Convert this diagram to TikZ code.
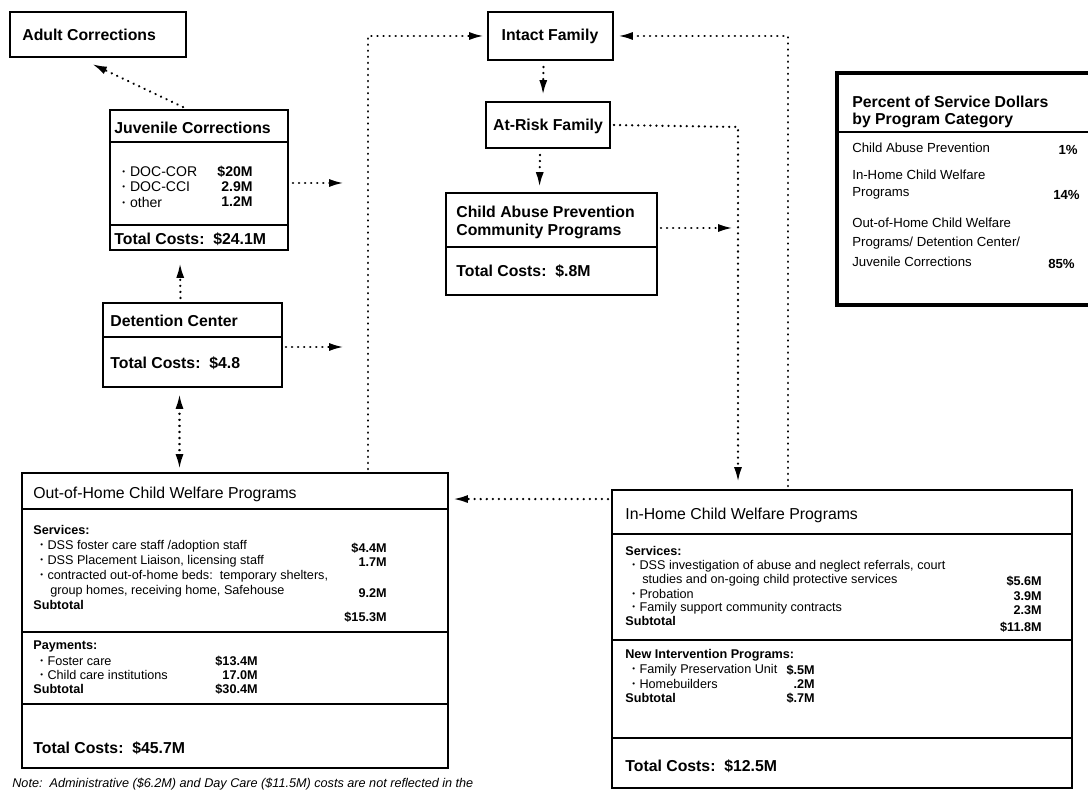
\documentclass[tikz,border=0pt]{standalone}
\usepackage{fontspec}
\setmainfont{Liberation Sans}
\usetikzlibrary{arrows.meta,fit,calc}

\newcommand{\dotitem}{\raisebox{0.25ex}{\fontsize{4.5}{5}\selectfont\textbullet}\hspace{0.35em}}

\tikzstyle{box} = [draw, line width=1.1pt, inner sep=0pt]
\tikzstyle{sep} = [line width=1pt]
\tikzstyle{dots} = [line width=1.4pt, line cap=round, dash pattern=on 0.05pt off 3.4pt]
\tikzstyle{flow} = [dots, -{Latex[length=8.5pt,width=4.6pt]}]
\tikzstyle{head} = [anchor=west, inner sep=0pt, font=\bfseries\fontsize{9}{10.5}\selectfont]
\tikzstyle{bigtitle} = [anchor=west, inner sep=0pt, font=\fontsize{9}{10.5}\selectfont]
\tikzstyle{txt} = [anchor=west, inner sep=0pt, font=\fontsize{7.2}{8.5}\selectfont]
\tikzstyle{btxt} = [anchor=west, inner sep=0pt, font=\bfseries\fontsize{7.2}{8.5}\selectfont]
\tikzstyle{val} = [anchor=east, inner sep=0pt, font=\bfseries\fontsize{7.2}{8.5}\selectfont]
\tikzstyle{jtxt} = [anchor=west, inner sep=0pt, font=\fontsize{8}{9.5}\selectfont]
\tikzstyle{jval} = [anchor=east, inner sep=0pt, font=\bfseries\fontsize{8}{9.5}\selectfont]
\tikzstyle{ptxt} = [anchor=west, inner sep=0pt, font=\fontsize{7.5}{9}\selectfont]
\tikzstyle{pval} = [anchor=east, inner sep=0pt, font=\bfseries\fontsize{7.5}{9}\selectfont]

\begin{document}
\begin{tikzpicture}[x=0.02cm, y=-0.02cm]
  \useasboundingbox (0,0) rectangle (1088,793);

  % small boxes
  \node[box, fit={(10,12) (186,57)}] (adult) {};
  \node[head] (adultT) at (22,35) {Adult Corrections};

  \node[box, fit={(110,110) (288,250)}] (juv) {};
  \draw[sep] (110,142) -- (288,142);
  \draw[sep] (110,225) -- (288,225);
  \node[head] (juvT) at (114,128) {Juvenile Corrections};
  \foreach \i/\y/\t/\v in {1/172/DOC-COR/\$20M, 2/187/DOC-CCI/2.9M, 3/202/other/1.2M} {
    \node[jtxt] (juvL\i) at (122,\y) {\dotitem\t};
    \node[jval] (juvV\i) at (253,\y) {\v};
  }
  \node[head] (juvC) at (114,239) {Total Costs:\ \ \$24.1M};

  \node[box, fit={(103,303) (282,387)}] (det) {};
  \draw[sep] (103,337) -- (282,337);
  \node[head] (detT) at (110,321) {Detention Center};
  \node[head] (detC) at (110,363) {Total Costs:\ \ \$4.8};

  \node[box, fit={(488,12) (613,60)}] (intact) {};
  \node[head] (intactT) at (550,36) [anchor=center] {Intact Family};

  \node[box, fit={(486,102) (610,148)}] (atrisk) {};
  \node[head] (atriskT) at (548,126) [anchor=center] {At-Risk Family};

  \node[box, fit={(446,193) (657,295)}] (cap) {};
  \draw[sep] (446,247) -- (657,247);
  \node[head] (capT1) at (456,212) {Child Abuse Prevention};
  \node[head] (capT2) at (456,231) {Community Programs};
  \node[head] (capC) at (456,271) {Total Costs:\ \ \$.8M};

  % percent box
  \node[draw, line width=2pt, inner sep=0pt, fit={(837,73) (1096,305)}] (pct) {};
  \draw[line width=1.4pt] (837,132) -- (1096,132);
  \node[head] (pctT1) at (852,102) {Percent of Service Dollars};
  \node[head] (pctT2) at (852,120) {by Program Category};
  \node[ptxt] (pct1) at (852,148) {Child Abuse Prevention};
  \node[pval] (pct1v) at (1078,150) {1\%};
  \node[ptxt] (pct2) at (852,175) {In-Home Child Welfare};
  \node[ptxt] (pct2b) at (852,193) {Programs};
  \node[pval] (pct2v) at (1080,195) {14\%};
  \node[ptxt] (pct3) at (852,223) {Out-of-Home Child Welfare};
  \node[ptxt] (pct3b) at (852,243) {Programs/ Detention Center/};
  \node[ptxt] (pct3c) at (852,262) {Juvenile Corrections};
  \node[pval] (pct3v) at (1075,264) {85\%};

  % out-of-home box
  \node[box, fit={(22,473) (448,768)}] (ooh) {};
  \draw[sep] (22,509) -- (448,509);
  \draw[sep] (22,632) -- (448,632);
  \draw[sep] (22,704) -- (448,704);
  \node[bigtitle] (oohT) at (33,494) {Out-of-Home Child Welfare Programs};
  \node[btxt] (oohS) at (33,530) {Services:};
  \foreach \i/\y/\t in {1/546/{DSS foster care staff /adoption staff},
                        2/561/{DSS Placement Liaison, licensing staff},
                        3/576/{contracted out-of-home beds:\ \ temporary shelters,}} {
    \node[txt] (oohL\i) at (40,\y) {\dotitem\t};
  }
  \node[txt] (oohL4) at (50,591) {group homes, receiving home, Safehouse};
  \foreach \i/\y/\v in {1/548/\$4.4M, 2/562/1.7M, 3/593/9.2M, 4/617/\$15.3M} {
    \node[val] (oohV\i) at (387,\y) {\v};
  }
  \node[btxt] (oohSub) at (33,605) {Subtotal};
  \node[btxt] (oohP) at (33,646) {Payments:};
  \node[txt] (oohP1) at (40,661) {\dotitem Foster care};
  \node[txt] (oohP2) at (40,675) {\dotitem Child care institutions};
  \node[btxt] (oohPSub) at (33,689) {Subtotal};
  \foreach \i/\y/\v in {1/661/\$13.4M, 2/675/17.0M, 3/689/\$30.4M} {
    \node[val] (oohPV\i) at (258,\y) {\v};
  }
  \node[head] (oohC) at (33,748) {Total Costs:\ \ \$45.7M};

  % in-home box
  \node[box, fit={(612,490) (1072,788)}] (ihome) {};
  \draw[sep] (612,534) -- (1072,534);
  \draw[sep] (612,640) -- (1072,640);
  \draw[sep] (612,738) -- (1072,738);
  \node[bigtitle] (ihT) at (625,515) {In-Home Child Welfare Programs};
  \node[btxt] (ihS) at (625,551) {Services:};
  \node[txt] (ihL1) at (632,566) {\dotitem DSS investigation of abuse and neglect referrals, court};
  \node[txt] (ihL1b) at (642,580) {studies and on-going child protective services};
  \node[txt] (ihL2) at (632,594) {\dotitem Probation};
  \node[txt] (ihL3) at (632,608) {\dotitem Family support community contracts};
  \node[btxt] (ihSub) at (625,621) {Subtotal};
  \foreach \i/\y/\v in {1/581/\$5.6M, 2/596/3.9M, 3/610/2.3M, 4/627/\$11.8M} {
    \node[val] (ihV\i) at (1042,\y) {\v};
  }
  \node[btxt] (ihN) at (625,655) {New Intervention Programs:};
  \node[txt] (ihN1) at (632,670) {\dotitem Family Preservation Unit};
  \node[txt] (ihN2) at (632,684) {\dotitem Homebuilders};
  \node[btxt] (ihNSub) at (625,698) {Subtotal};
  \foreach \i/\y/\v in {1/670/\$.5M, 2/684/.2M, 3/698/\$.7M} {
    \node[val] (ihNV\i) at (815,\y) {\v};
  }
  \node[head] (ihC) at (625,766) {Total Costs:\ \ \$12.5M};

  \node[anchor=west, inner sep=0pt, font=\itshape\fontsize{7.2}{8}\selectfont] (note) at (12,784)
    {Note:\ \ Administrative (\$6.2M) and Day Care (\$11.5M) costs are not reflected in the};

  % bus lines
  \coordinate (lbus) at (368,36);
  \coordinate (mbus) at (738,127);
  \coordinate (rbus) at (788,36);

  % connectors
  \draw[flow] ($(juv.north)+(-16,-2)$) -- ($(adult.south)+(-6,6)$);
  \draw[flow] ($(det.north)+(-12,-4)$) -- ($(juv.south)+(-19,12)$);
  \draw[flow, {Latex[length=8.5pt,width=4.6pt]}-{Latex[length=8.5pt,width=4.6pt]}]
    ($(det.south)+(-13,6)$) -- ($(det.south |- ooh.north)+(-13,-3)$);
  \draw[flow] ($(juv.east)+(4,3)$) -- ($(juv.east -| lbus)+(-24,3)$);
  \draw[flow] ($(det.east)+(3,2)$) -- ($(det.east -| lbus)+(-24,2)$);
  \draw[flow] ($(ooh.north -| lbus)+(0,-3)$) -- (lbus) -- ($(intact.west)+(-3,0)$);
  \draw[flow] ($(ihome.north -| rbus)+(0,-3)$) -- (rbus) -- ($(intact.east)+(4,0)$);
  \draw[flow] ($(intact.south)+(-7,6)$) -- ($(atrisk.north)+(-5,-6)$);
  \draw[flow] ($(atrisk.south)+(-8,6)$) -- ($(cap.north)+(-12,-5)$);
  \draw[flow] ($(atrisk.east)+(3,0)$) -- (mbus) -- ($(ihome.north -| mbus)+(0,-7)$);
  \draw[flow] ($(cap.east)+(3,-16)$) -- ($(cap.east -| mbus)+(-5,-16)$);
  \draw[flow] ($(ihome.north west)+(-3,10)$) -- ($(ooh.north east)+(4,27)$);
\end{tikzpicture}
\end{document}
